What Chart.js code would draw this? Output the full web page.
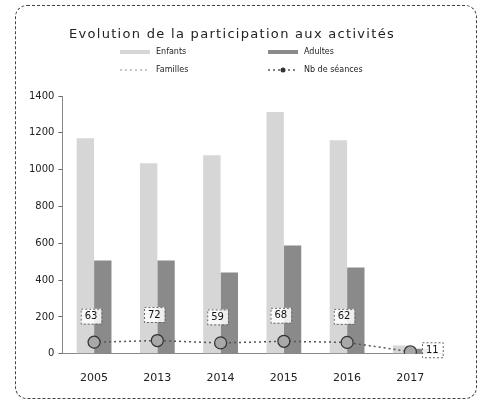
<!DOCTYPE html>
<html lang="fr">
<head>
<meta charset="utf-8">
<script src="https://cdn.jsdelivr.net/npm/chart.js@4.4.1/dist/chart.umd.min.js"></script>
<style>
  html, body { margin: 0; padding: 0; background: #fff; }
  body { width: 485px; height: 405px; position: relative; overflow: hidden; }
  .cadre {
    position: absolute; left: 15px; top: 5px; width: 460px; height: 392px;
    border: 1px dashed #444; border-radius: 12px;
  }
  #graph { position: absolute; left: 16px; top: 6px; }
</style>
</head>
<body>
<div class="cadre"></div>
<canvas id="graph" width="460" height="392"></canvas>
<script>
// ===== Données =====
const annees = ['2005', '2013', '2014', '2015', '2016', '2017'];
const enfants = [1170, 1035, 1078, 1313, 1160, 45];
const adultes = [507, 507, 441, 588, 468, 28];
const familles = [];
const seances = [63, 72, 59, 68, 62, 11];
const ticksY = [0, 200, 400, 600, 800, 1000, 1200, 1400];

const TITRE = 'Evolution de la participation aux activités';
const POLICE = '"DejaVu Sans", sans-serif';

// ===== Titre et légende sur deux colonnes =====
const enTete = {
    id: 'enTete',
    afterDraw(chart) {
        const ctx = chart.ctx;
        const centre = chart.width / 2;
        const haut = chart.chartArea.top;

        ctx.save();
        ctx.fillStyle = '#222';
        ctx.font = '13px ' + POLICE;
        ctx.letterSpacing = '1.3px';
        ctx.textAlign = 'center';
        ctx.textBaseline = 'middle';
        ctx.fillText(TITRE, centre - 14, haut - 61);
        ctx.letterSpacing = '0px';

        const colonnes = [centre - 126, centre + 22];
        const lignes = [haut - 44, haut - 26];
        ctx.font = '8px ' + POLICE;
        ctx.textAlign = 'left';
        chart.data.datasets.forEach((ds, i) => {
            const x = colonnes[i % 2];
            const y = lignes[Math.floor(i / 2)];
            if (ds.type === 'bar') {
                ctx.fillStyle = ds.backgroundColor;
                ctx.fillRect(x, y - 2, 30, 4);
            } else {
                ctx.strokeStyle = ds.borderColor;
                ctx.lineWidth = 1.5;
                ctx.setLineDash([2, 3]);
                ctx.beginPath();
                ctx.moveTo(x, y);
                ctx.lineTo(x + 30, y);
                ctx.stroke();
                ctx.setLineDash([]);
                if (ds.pointRadius) {
                    ctx.fillStyle = ds.pointBorderColor;
                    ctx.beginPath();
                    ctx.arc(x + 15, y, 2.5, 0, Math.PI * 2);
                    ctx.fill();
                }
            }
            ctx.fillStyle = '#222';
            ctx.fillText(ds.label, x + 36, y);
        });
        ctx.restore();
    }
};

// ===== Étiquettes du nombre de séances =====
const etiquettesSeances = {
    id: 'etiquettesSeances',
    afterDatasetsDraw(chart) {
        const idx = chart.data.datasets.findIndex(d => d.label === 'Nb de séances');
        const meta = chart.getDatasetMeta(idx);
        const ctx = chart.ctx;
        ctx.save();
        ctx.font = '10px ' + POLICE;
        ctx.textAlign = 'center';
        ctx.textBaseline = 'middle';
        meta.data.forEach((pt, i) => {
            const txt = String(seances[i]);
            const dernier = i === seances.length - 1;
            const x = dernier ? pt.x + 22 : pt.x - 3;
            const y = dernier ? pt.y - 2 : pt.y - 26;
            const w = ctx.measureText(txt).width + 8;
            const h = 15;
            ctx.fillStyle = 'rgba(255,255,255,0.85)';
            ctx.fillRect(x - w / 2, y - h / 2, w, h);
            ctx.strokeStyle = '#666';
            ctx.lineWidth = 1;
            ctx.setLineDash([2, 2]);
            ctx.strokeRect(x - w / 2 + 0.5, y - h / 2 + 0.5, w, h);
            ctx.setLineDash([]);
            ctx.fillStyle = '#111';
            ctx.fillText(txt, x, y + 0.5);
        });
        ctx.restore();
    }
};

// ===== Graphique =====
new Chart(document.getElementById('graph'), {
    data: {
        labels: annees,
        datasets: [
            {
                type: 'bar', label: 'Enfants', data: enfants, order: 2,
                backgroundColor: '#d6d6d6', borderWidth: 0,
                categoryPercentage: 0.55, barPercentage: 1
            },
            {
                type: 'bar', label: 'Adultes', data: adultes, order: 2,
                backgroundColor: '#8a8a8a', borderWidth: 0,
                categoryPercentage: 0.55, barPercentage: 1
            },
            {
                type: 'line', label: 'Familles', data: familles, order: 1,
                borderColor: '#b5b5b5', pointRadius: 0
            },
            {
                type: 'line', label: 'Nb de séances', data: seances, order: 0,
                borderColor: '#555', borderWidth: 1.5, borderDash: [2, 3],
                pointRadius: 6, pointBackgroundColor: '#a8a8a8',
                pointBorderColor: '#333', pointBorderWidth: 1.2,
                tension: 0
            }
        ]
    },
    options: {
        responsive: false,
        animation: false,
        layout: { padding: { top: 90, left: 9, right: 34, bottom: 3 } },
        plugins: {
            legend: { display: false },
            tooltip: { enabled: false },
            title: { display: false }
        },
        scales: {
            x: {
                grid: { display: false },
                border: { color: '#888', dash: [2, 2] },
                ticks: { color: '#222', font: { family: POLICE, size: 11 }, padding: 10 }
            },
            y: {
                min: 0,
                max: 1400,
                afterBuildTicks: axis => { axis.ticks = ticksY.map(v => ({ value: v })); },
                grid: { drawOnChartArea: false, drawTicks: true, tickLength: 4, color: '#666' },
                border: { color: '#888', dash: [2, 2] },
                ticks: {
                    color: '#222', font: { family: POLICE, size: 10 }, padding: 4,
                    callback: v => String(v)
                }
            }
        }
    },
    plugins: [enTete, etiquettesSeances]
});
</script>
</body>
</html>
